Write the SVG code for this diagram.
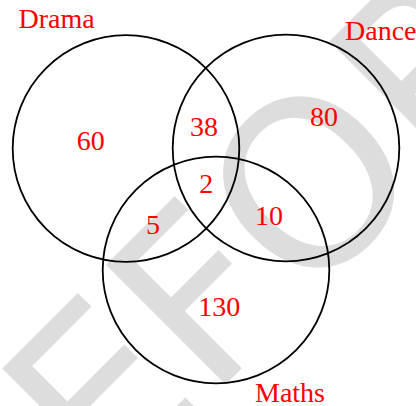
<svg xmlns="http://www.w3.org/2000/svg" width="416" height="406" viewBox="0 0 416 406">
<style>
.set{fill:none;stroke:#000;stroke-width:1.8}
.lbl{font-family:"Liberation Serif","Times New Roman",serif;font-size:28px;fill:#ff0000}
.wm{font-family:"DejaVu Sans",Verdana,sans-serif;font-size:232px;fill:#dddddd}
</style>
<rect width="416" height="406" fill="#ffffff"/>
<g id="watermark"><text class="wm" transform="translate(105.75,504.25) rotate(-45)" x="0" y="0">EFOR</text></g>
<g id="drama"><circle class="set" cx="126" cy="148.5" r="113.3"/><text class="lbl" x="18.5" y="27.7">Drama</text></g>
<g id="dance"><circle class="set" cx="286" cy="148" r="113.3"/><text class="lbl" x="345" y="39.5">Dance</text></g>
<g id="maths"><circle class="set" cx="216" cy="270" r="113.3"/><text class="lbl" x="255" y="401.7">Maths</text></g>
<g id="counts">
<text class="lbl" x="76.7" y="150">60</text>
<text class="lbl" x="190" y="136">38</text>
<text class="lbl" x="310" y="126">80</text>
<text class="lbl" x="199.3" y="193.3">2</text>
<text class="lbl" x="146" y="234.3">5</text>
<text class="lbl" x="255" y="225">10</text>
<text class="lbl" x="198.3" y="316">130</text>
</g>
<g id="connectors"/>
</svg>
